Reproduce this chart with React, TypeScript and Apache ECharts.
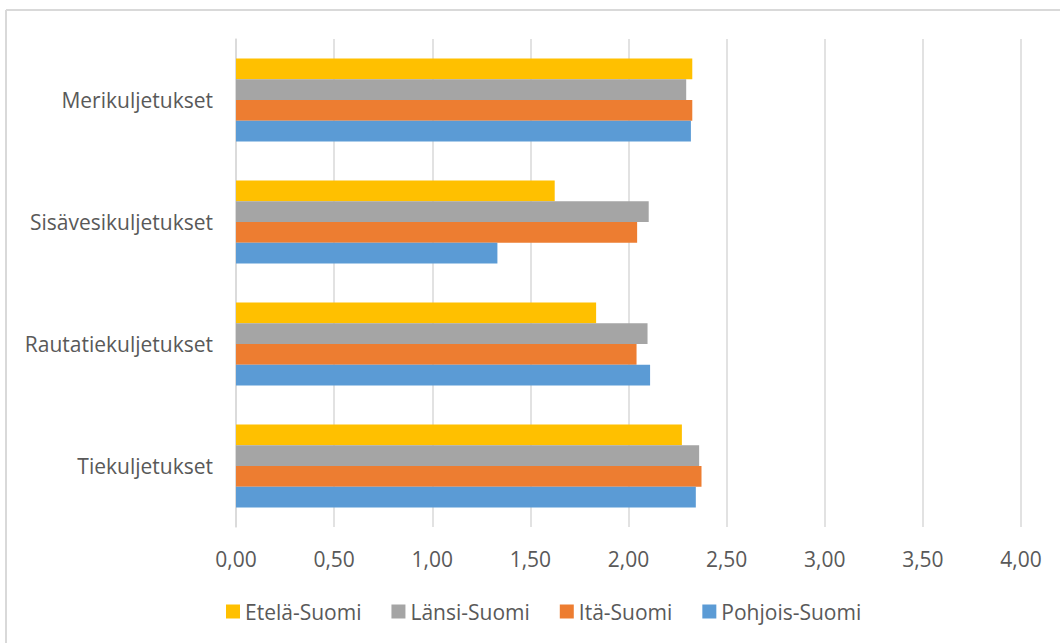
import React, { useEffect, useRef } from "react";
import * as echarts from "echarts";

const categories = ["Tiekuljetukset", "Rautatiekuljetukset", "Sisävesikuljetukset", "Merikuljetukset"];
const pohjoisSuomi = [2.343, 2.11, 1.332, 2.318];
const itaSuomi = [2.372, 2.041, 2.044, 2.325];
const lansiSuomi = [2.36, 2.097, 2.103, 2.294];
const etelaSuomi = [2.272, 1.835, 1.624, 2.325];
const legendOrder = ["Etelä-Suomi", "Länsi-Suomi", "Itä-Suomi", "Pohjois-Suomi"];

const FONT = "'Open Sans', sans-serif";
const TEXT = "#595959";

export default function App() {
  const ref = useRef<HTMLDivElement>(null);
  useEffect(() => {
    if (!ref.current) return;
    const chart = echarts.init(ref.current, undefined, { renderer: "svg" });
    const mk = (name: string, data: number[], color: string) => ({
      name,
      type: "bar",
      data,
      itemStyle: { color },
      barGap: "0%",
      barCategoryGap: "32%",
    });
    chart.setOption({
      animation: false,
      backgroundColor: "#ffffff",
      textStyle: { fontFamily: FONT },
      grid: { left: 236, right: 39, top: 39, bottom: 116, containLabel: false },
      xAxis: {
        type: "value",
        min: 0,
        max: 4,
        interval: 0.5,
        axisLine: { show: false },
        axisTick: { show: false },
        splitLine: { show: true, lineStyle: { color: "#d9d9d9", width: 1.5 } },
        axisLabel: {
          color: TEXT,
          fontFamily: FONT,
          fontSize: 21,
          margin: 21,
          formatter: (v: number) => v.toFixed(2).replace(".", ","),
        },
      },
      yAxis: {
        type: "category",
        data: categories,
        axisLine: { show: true, lineStyle: { color: "#d9d9d9", width: 1.5 } },
        axisTick: { show: false },
        axisLabel: { color: TEXT, fontFamily: FONT, fontSize: 21, margin: 23 },
      },
      legend: {
        data: legendOrder,
        left: 221,
        top: 596,
        itemWidth: 14,
        itemHeight: 14,
        itemGap: 30,
        icon: "rect",
        textStyle: { color: TEXT, fontFamily: FONT, fontSize: 21 },
      },
      graphic: [
        {
          type: "line",
          shape: { x1: 6, y1: 10, x2: 1100, y2: 10 },
          style: { stroke: "#d9d9d9", lineWidth: 2 },
        },
        {
          type: "line",
          shape: { x1: 6, y1: 10, x2: 6, y2: 700 },
          style: { stroke: "#d9d9d9", lineWidth: 2 },
        },
      ],
      series: [
        mk("Etelä-Suomi", etelaSuomi, "#FFC000"),
        mk("Länsi-Suomi", lansiSuomi, "#A5A5A5"),
        mk("Itä-Suomi", itaSuomi, "#ED7D31"),
        mk("Pohjois-Suomi", pohjoisSuomi, "#5B9BD5"),
      ],
    });
    return () => chart.dispose();
  }, []);
  return (
    <div
      ref={ref}
      style={{ position: "fixed", left: 0, top: 0, width: 1060, height: 643 }}
    />
  );
}
